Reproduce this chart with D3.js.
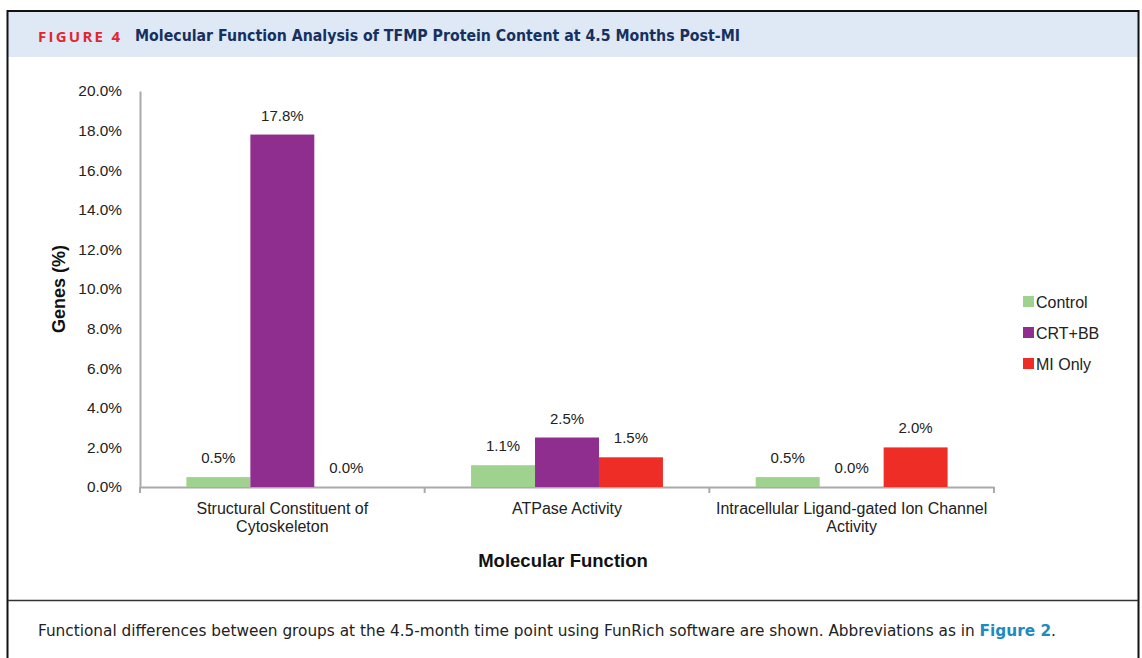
<!DOCTYPE html>
<html>
<head>
<meta charset="utf-8">
<script src="https://cdn.jsdelivr.net/npm/d3@7"></script>
<style>
  body { margin: 0; background: #fff; }
  svg { display: block; }
</style>
</head>
<body>
<div class="container"></div>
<script>
// chart data
var categories = [
  ["Structural Constituent of", "Cytoskeleton"],
  ["ATPase Activity"],
  ["Intracellular Ligand-gated Ion Channel", "Activity"]
];
var seriesNames = ["Control", "CRT+BB", "MI Only"];
var controlValues = [0.5, 1.1, 0.5];
var crtbbValues = [17.8, 2.5, 0.0];
var miOnlyValues = [0.0, 1.5, 2.0];
var yTicks = [0, 2, 4, 6, 8, 10, 12, 14, 16, 18, 20];
var seriesColors = ["#9fd18f", "#8f2e8e", "#ee2d27"];

var allValues = [controlValues, crtbbValues, miOnlyValues];

var W = 1142, H = 658;
var svg = d3.select('.container')
  .append('svg').attr('width', W).attr('height', H);

var font = "'Liberation Sans', Arial, sans-serif";
var narrow = "'Liberation Sans Narrow', 'DejaVu Sans Condensed', 'Open Sans', sans-serif";

// header band + frame
svg.append('rect')
  .attr('x', 8).attr('y', 12).attr('width', 1130).attr('height', 45)
  .style('fill', '#dfe9f5');
svg.append('rect')
  .attr('x', 7.5).attr('y', 11).attr('width', 1131).attr('height', 680)
  .style('fill', 'none').style('stroke', '#111').style('stroke-width', 2);
svg.append('line')
  .attr('x1', 8).attr('x2', 1138).attr('y1', 600.5).attr('y2', 600.5)
  .style('stroke', '#333').style('stroke-width', 1.5);

svg.append('text')
  .attr('x', 38).attr('y', 42)
  .attr('textLength', 82).attr('lengthAdjust', 'spacing')
  .style('font-family', "'Open Sans', sans-serif").style('font-weight', 'bold')
  .style('font-size', '15px')
  .style('fill', '#e2262e')
  .text('FIGURE 4');
svg.append('text')
  .attr('x', 135).attr('y', 41)
  .attr('textLength', 605).attr('lengthAdjust', 'spacingAndGlyphs')
  .style('font-family', narrow).style('font-weight', 'bold')
  .style('font-size', '15px').style('fill', '#16305f')
  .text('Molecular Function Analysis of TFMP Protein Content at 4.5 Months Post-MI');

// caption
var cap = svg.append('text')
  .attr('x', 38).attr('y', 636)
  .attr('textLength', 1018).attr('lengthAdjust', 'spacingAndGlyphs')
  .style('font-family', narrow).style('font-size', '15px').style('fill', '#222');
cap.append('tspan').text('Functional differences between groups at the 4.5-month time point using FunRich software are shown. Abbreviations as in ');
cap.append('tspan').style('fill', '#1b8bc2').style('font-weight', 'bold').text('Figure 2');
cap.append('tspan').text('.');

// scales
var plot = { left: 140, right: 994, top: 91, bottom: 487 };

var x0 = d3.scaleBand()
  .domain(d3.range(categories.length))
  .range([plot.left, plot.right])
  .padding(0);
var bw = x0.bandwidth();
var x1 = d3.scaleBand()
  .domain(seriesNames)
  .range([bw * 0.163, bw * 0.837])
  .padding(0);
var y = d3.scaleLinear().domain([0, 20]).range([plot.bottom, plot.top]);

var g = svg.append('g');

// y axis
var yAxis = g.append('g')
  .attr('transform', 'translate(' + plot.left + ',0)')
  .call(d3.axisLeft(y).tickValues(yTicks).tickSize(0).tickPadding(18)
    .tickFormat(function(d) { return d.toFixed(1) + '%'; }));
yAxis.select('.domain').style('stroke', '#aaa').style('stroke-width', 2);
yAxis.selectAll('text')
  .style('font-family', font).style('font-size', '15.4px').style('fill', '#222');

// x axis
var xAxis = g.append('g')
  .attr('transform', 'translate(0,' + plot.bottom + ')')
  .call(d3.axisBottom(x0).tickSize(0).tickFormat(''));
xAxis.select('.domain').style('stroke', '#aaa').style('stroke-width', 2);
xAxis.selectAll('.tick').remove();

var catEdges = d3.range(categories.length + 1).map(function(i) {
  return i < categories.length ? x0(i) : x0(i - 1) + bw;
});
g.selectAll('line.cat-tick').data(catEdges).enter().append('line')
  .attr('class', 'cat-tick')
  .attr('x1', function(d) { return d; }).attr('x2', function(d) { return d; })
  .attr('y1', plot.bottom).attr('y2', plot.bottom + 6)
  .style('stroke', '#aaa').style('stroke-width', 2);

var catLabels = g.selectAll('text.cat').data(categories).enter().append('text')
  .attr('class', 'cat')
  .attr('x', function(d, i) { return x0(i) + bw / 2; })
  .attr('y', plot.bottom + 27)
  .attr('text-anchor', 'middle')
  .style('font-family', font).style('font-size', '16px').style('fill', '#222');
catLabels.selectAll('tspan').data(function(d) { return d; }).enter().append('tspan')
  .attr('x', function() { return d3.select(this.parentNode).attr('x'); })
  .attr('dy', function(d, i) { return i === 0 ? 0 : 18; })
  .text(function(d) { return d; });

// bars
var barData = [];
categories.forEach(function(c, ci) {
  seriesNames.forEach(function(s, si) {
    barData.push({ cat: ci, series: s, idx: si, value: allValues[si][ci] });
  });
});

var bars = g.selectAll('rect.bar').data(barData);
bars.enter().append('rect')
  .attr('class', 'bar')
  .attr('x', function(d) { return x0(d.cat) + x1(d.series); })
  .attr('y', function(d) { return y(d.value); })
  .attr('width', x1.bandwidth())
  .attr('height', function(d) { return y(0) - y(d.value); })
  .style('fill', function(d) { return seriesColors[d.idx]; });

g.selectAll('text.val').data(barData).enter().append('text')
  .attr('class', 'val')
  .attr('x', function(d) { return x0(d.cat) + x1(d.series) + x1.bandwidth() / 2; })
  .attr('y', function(d) { return y(d.value) - 14; })
  .attr('text-anchor', 'middle')
  .style('font-family', font).style('font-size', '15px').style('fill', '#222')
  .text(function(d) { return d.value.toFixed(1) + '%'; });

// axis titles
svg.append('text')
  .attr('transform', 'translate(65,' + ((plot.top + plot.bottom) / 2) + ') rotate(-90)')
  .attr('text-anchor', 'middle')
  .style('font-family', font).style('font-weight', 'bold').style('font-size', '18px')
  .style('fill', '#111')
  .text('Genes (%)');
svg.append('text')
  .attr('x', 563).attr('y', 567)
  .attr('text-anchor', 'middle')
  .style('font-family', font).style('font-weight', 'bold').style('font-size', '18.5px')
  .style('fill', '#111')
  .text('Molecular Function');

// legend
var legend = svg.append('g').attr('transform', 'translate(1023,296)');
var items = legend.selectAll('g').data(seriesNames).enter().append('g')
  .attr('transform', function(d, i) { return 'translate(0,' + (i * 31) + ')'; });
items.append('rect')
  .attr('width', 11).attr('height', 11)
  .style('fill', function(d, i) { return seriesColors[i]; });
items.append('text')
  .attr('x', 13).attr('y', 12)
  .style('font-family', font).style('font-size', '16px').style('fill', '#222')
  .text(function(d) { return d; });
</script>
</body>
</html>
